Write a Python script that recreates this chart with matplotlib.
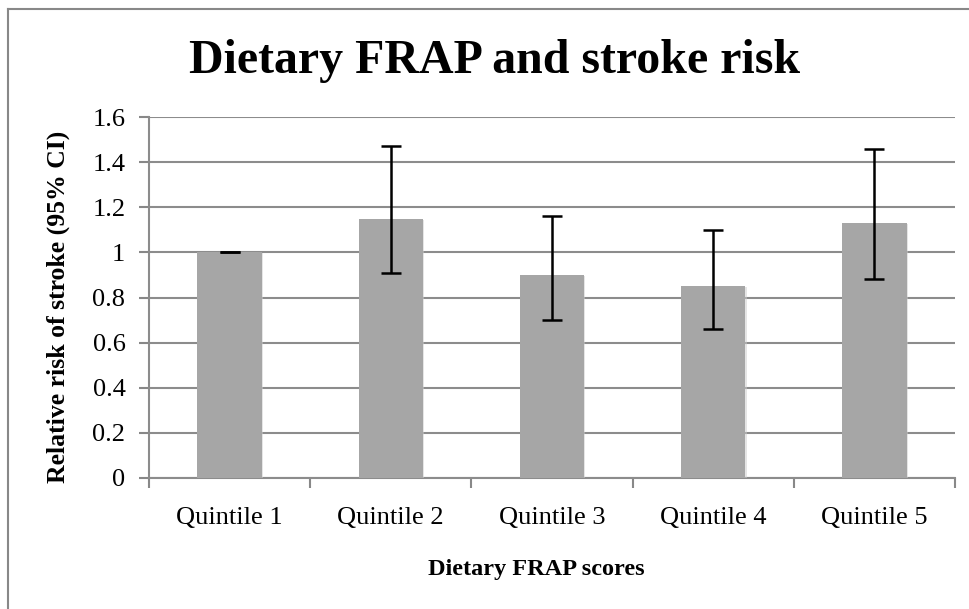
import numpy as np
import matplotlib.pyplot as plt
from matplotlib.lines import Line2D
import matplotlib.patheffects as pe

categories = ["Quintile 1", "Quintile 2", "Quintile 3", "Quintile 4", "Quintile 5"]
rr = [1.00, 1.15, 0.90, 0.85, 1.13]
ci_low = [1.00, 0.91, 0.70, 0.66, 0.88]
ci_high = [1.00, 1.47, 1.16, 1.10, 1.46]
yticks = [0, 0.2, 0.4, 0.6, 0.8, 1, 1.2, 1.4, 1.6]
ytick_labels = ["0", "0.2", "0.4", "0.6", "0.8", "1", "1.2", "1.4", "1.6"]

plt.rcParams['font.family'] = ['Liberation Serif', 'DejaVu Serif']

W, H = 969, 609
fig = plt.figure(figsize=(W / 100, H / 100), dpi=100)
ax = fig.add_axes([149 / W, 1 - 478 / H, (955 - 149) / W, (478 - 117) / H])

x = np.arange(len(categories))
err = [np.array(rr) - np.array(ci_low), np.array(ci_high) - np.array(rr)]

bars = ax.bar(x, rr, width=0.40, color='#a6a6a6', zorder=3)
for b in bars:
    b.set_path_effects([pe.SimplePatchShadow(offset=(0.8, -0.8), shadow_rgbFace='#cccccc', alpha=0.5), pe.Normal()])
ax.errorbar(x, rr, yerr=err, fmt='none', ecolor='black', elinewidth=1.8,
            capsize=7, capthick=1.8, zorder=4)

ax.set_xlim(-0.5, len(categories) - 0.5)
ax.set_ylim(0, 1.6)
ax.set_yticks(yticks)
ax.set_yticklabels(ytick_labels)
ax.set_xticks(x)
ax.set_xticklabels(categories)
# boundary ticks for the category axis
ax.set_xticks(np.arange(len(categories) + 1) - 0.5, minor=True)
ax.tick_params(axis='x', which='major', length=0, labelsize=19, pad=21)
ax.tick_params(axis='x', which='minor', length=7, width=1.5, color='#888888', direction='out')
ax.tick_params(axis='y', length=7, width=1.5, color='#888888', labelsize=19, pad=10)

ax.grid(axis='y', color='#8c8c8c', linewidth=1.5, zorder=0)
ax.set_axisbelow(True)
for s in ['top', 'right']:
    ax.spines[s].set_visible(False)
for s in ['left', 'bottom']:
    ax.spines[s].set_color('#8c8c8c')
    ax.spines[s].set_linewidth(1.5)

fig.text(58 / W, 1 - 307 / H, "Relative risk of stroke (95% CI)", fontsize=18.5,
         fontweight='bold', rotation=90, ha='center', va='center')
fig.text(536 / W, 1 - 575 / H, "Dietary FRAP scores", fontsize=17.5,
         fontweight='bold', ha='center', va='baseline')

fig.text(495 / W, 1 - 73 / H, "Dietary FRAP and stroke risk", fontsize=34.5,
         fontweight='bold', ha='center', va='baseline')

# outer chart border (only top and left visible in the crop)
fig.add_artist(Line2D([8 / W, 1], [1 - 9 / H, 1 - 9 / H], color='#888888', linewidth=1.5))
fig.add_artist(Line2D([8 / W, 8 / W], [0, 1 - 9 / H], color='#888888', linewidth=1.5))

fig.savefig("out.png", dpi=100)
